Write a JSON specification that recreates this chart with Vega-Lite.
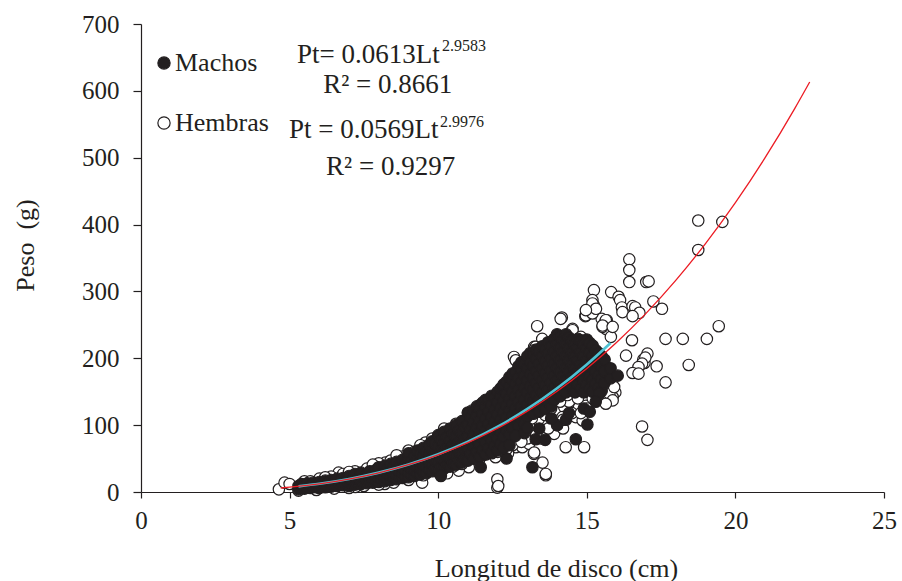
{
  "$schema": "https://vega.github.io/schema/vega-lite/v6.json",
  "width": 743,
  "height": 468,
  "autosize": {"type": "none"},
  "padding": {"left": 141, "top": 24, "right": 18, "bottom": 89},
  "background": "white",
  "config": {
    "view": {"stroke": null},
    "font": "Liberation Serif",
    "axis": {
      "labelFont": "Liberation Serif",
      "titleFont": "Liberation Serif",
      "labelFontSize": 25,
      "titleFontSize": 26,
      "titleFontWeight": "normal",
      "labelColor": "#231f20",
      "titleColor": "#231f20",
      "domainColor": "#231f20",
      "tickColor": "#231f20",
      "domainWidth": 1.2,
      "tickWidth": 1.2,
      "labelFlush": false,
      "grid": false
    },
    "legend": {
      "labelFont": "Liberation Serif",
      "labelFontSize": 26,
      "labelColor": "#231f20"
    }
  },
  "datasets": {
    "machos": [
      {"lt":5.3,"pt":4},{"lt":5.3,"pt":9},{"lt":5.4,"pt":6},{"lt":5.4,"pt":12},{"lt":5.5,"pt":5},{"lt":5.5,"pt":10},
      {"lt":5.6,"pt":7},{"lt":5.6,"pt":13},{"lt":5.7,"pt":6},{"lt":5.7,"pt":11},{"lt":5.8,"pt":8},{"lt":5.8,"pt":14},
      {"lt":5.9,"pt":7},{"lt":5.9,"pt":12},{"lt":6.0,"pt":6},{"lt":6.0,"pt":10},{"lt":6.0,"pt":15},{"lt":6.1,"pt":8},
      {"lt":6.1,"pt":13},{"lt":6.2,"pt":7},{"lt":6.2,"pt":12},{"lt":6.2,"pt":17},{"lt":6.3,"pt":9},{"lt":6.3,"pt":15},
      {"lt":6.4,"pt":8},{"lt":6.4,"pt":13},{"lt":6.4,"pt":18},{"lt":6.5,"pt":10},{"lt":6.5,"pt":16},{"lt":6.6,"pt":9},
      {"lt":6.6,"pt":14},{"lt":6.6,"pt":20},{"lt":6.7,"pt":11},{"lt":6.7,"pt":17},{"lt":6.8,"pt":10},{"lt":6.8,"pt":15},
      {"lt":6.8,"pt":21},{"lt":6.9,"pt":12},{"lt":6.9,"pt":18},{"lt":7.0,"pt":9},{"lt":7.0,"pt":14},{"lt":7.0,"pt":20},
      {"lt":7.0,"pt":24},{"lt":7.1,"pt":12},{"lt":7.1,"pt":18},{"lt":7.2,"pt":11},{"lt":7.2,"pt":16},{"lt":7.2,"pt":22},
      {"lt":7.2,"pt":27},{"lt":7.3,"pt":13},{"lt":7.3,"pt":19},{"lt":7.4,"pt":12},{"lt":7.4,"pt":17},{"lt":7.4,"pt":24},
      {"lt":7.4,"pt":29},{"lt":7.5,"pt":14},{"lt":7.5,"pt":21},{"lt":7.6,"pt":13},{"lt":7.6,"pt":19},{"lt":7.6,"pt":26},
      {"lt":7.7,"pt":15},{"lt":7.7,"pt":22},{"lt":7.7,"pt":31},{"lt":7.8,"pt":14},{"lt":7.8,"pt":20},{"lt":7.8,"pt":27},
      {"lt":7.9,"pt":17},{"lt":7.9,"pt":24},{"lt":7.9,"pt":33},{"lt":8.0,"pt":15},{"lt":8.0,"pt":22},{"lt":8.0,"pt":29},
      {"lt":8.0,"pt":37},{"lt":8.1,"pt":18},{"lt":8.1,"pt":26},{"lt":8.2,"pt":16},{"lt":8.2,"pt":23},{"lt":8.2,"pt":31},
      {"lt":8.2,"pt":39},{"lt":8.3,"pt":19},{"lt":8.3,"pt":27},{"lt":8.3,"pt":35},{"lt":8.4,"pt":18},{"lt":8.4,"pt":25},
      {"lt":8.4,"pt":33},{"lt":8.4,"pt":42},{"lt":8.5,"pt":21},{"lt":8.5,"pt":29},{"lt":8.5,"pt":38},{"lt":8.6,"pt":19},
      {"lt":8.6,"pt":27},{"lt":8.6,"pt":35},{"lt":8.6,"pt":45},{"lt":8.7,"pt":23},{"lt":8.7,"pt":31},{"lt":8.7,"pt":40},
      {"lt":8.8,"pt":21},{"lt":8.8,"pt":29},{"lt":8.8,"pt":37},{"lt":8.8,"pt":48},{"lt":8.9,"pt":24},{"lt":8.9,"pt":33},
      {"lt":8.9,"pt":43},{"lt":9.0,"pt":22},{"lt":9.0,"pt":30},{"lt":9.0,"pt":39},{"lt":9.0,"pt":51},{"lt":9.0,"pt":58},
      {"lt":9.1,"pt":26},{"lt":9.1,"pt":35},{"lt":9.1,"pt":46},{"lt":9.2,"pt":24},{"lt":9.2,"pt":33},{"lt":9.2,"pt":42},
      {"lt":9.2,"pt":54},{"lt":9.3,"pt":28},{"lt":9.3,"pt":38},{"lt":9.3,"pt":49},{"lt":9.3,"pt":62},{"lt":9.4,"pt":26},
      {"lt":9.4,"pt":36},{"lt":9.4,"pt":45},{"lt":9.4,"pt":57},{"lt":9.5,"pt":30},{"lt":9.5,"pt":41},{"lt":9.5,"pt":53},
      {"lt":9.5,"pt":66},{"lt":9.6,"pt":28},{"lt":9.6,"pt":39},{"lt":9.6,"pt":49},{"lt":9.6,"pt":60},{"lt":9.7,"pt":33},
      {"lt":9.7,"pt":44},{"lt":9.7,"pt":56},{"lt":9.7,"pt":71},{"lt":9.8,"pt":31},{"lt":9.8,"pt":42},{"lt":9.8,"pt":52},
      {"lt":9.8,"pt":64},{"lt":9.8,"pt":76},{"lt":9.9,"pt":35},{"lt":9.9,"pt":47},{"lt":9.9,"pt":59},{"lt":9.9,"pt":73},
      {"lt":10.0,"pt":33},{"lt":10.0,"pt":45},{"lt":10.0,"pt":56},{"lt":10.0,"pt":68},{"lt":10.0,"pt":85},
      {"lt":10.1,"pt":37},{"lt":10.1,"pt":50},{"lt":10.1,"pt":62},{"lt":10.1,"pt":78},
      {"lt":10.2,"pt":35},{"lt":10.2,"pt":48},{"lt":10.2,"pt":60},{"lt":10.2,"pt":73},{"lt":10.2,"pt":90},
      {"lt":10.3,"pt":40},{"lt":10.3,"pt":53},{"lt":10.3,"pt":66},{"lt":10.3,"pt":82},
      {"lt":10.4,"pt":38},{"lt":10.4,"pt":51},{"lt":10.4,"pt":64},{"lt":10.4,"pt":77},{"lt":10.4,"pt":95},
      {"lt":10.5,"pt":43},{"lt":10.5,"pt":57},{"lt":10.5,"pt":70},{"lt":10.5,"pt":87},
      {"lt":10.6,"pt":41},{"lt":10.6,"pt":55},{"lt":10.6,"pt":68},{"lt":10.6,"pt":83},{"lt":10.6,"pt":100},
      {"lt":10.7,"pt":46},{"lt":10.7,"pt":60},{"lt":10.7,"pt":74},{"lt":10.7,"pt":92},
      {"lt":10.8,"pt":44},{"lt":10.8,"pt":58},{"lt":10.8,"pt":72},{"lt":10.8,"pt":88},{"lt":10.8,"pt":106},
      {"lt":10.9,"pt":49},{"lt":10.9,"pt":64},{"lt":10.9,"pt":79},{"lt":10.9,"pt":97},
      {"lt":11.0,"pt":47},{"lt":11.0,"pt":65},{"lt":11.0,"pt":83},{"lt":11.0,"pt":101},{"lt":11.0,"pt":119},
      {"lt":11.1,"pt":57},{"lt":11.1,"pt":75},{"lt":11.1,"pt":93},{"lt":11.1,"pt":111},
      {"lt":11.2,"pt":50},{"lt":11.2,"pt":68},{"lt":11.2,"pt":86},{"lt":11.2,"pt":104},{"lt":11.2,"pt":122},
      {"lt":11.3,"pt":60},{"lt":11.3,"pt":78},{"lt":11.3,"pt":96},{"lt":11.3,"pt":114},{"lt":11.3,"pt":128},
      {"lt":11.4,"pt":53},{"lt":11.4,"pt":71},{"lt":11.4,"pt":89},{"lt":11.4,"pt":107},{"lt":11.4,"pt":125},
      {"lt":11.5,"pt":63},{"lt":11.5,"pt":81},{"lt":11.5,"pt":99},{"lt":11.5,"pt":117},{"lt":11.5,"pt":134},
      {"lt":11.6,"pt":56},{"lt":11.6,"pt":74},{"lt":11.6,"pt":92},{"lt":11.6,"pt":110},{"lt":11.6,"pt":128},{"lt":11.6,"pt":138},
      {"lt":11.7,"pt":66},{"lt":11.7,"pt":84},{"lt":11.7,"pt":102},{"lt":11.7,"pt":120},{"lt":11.7,"pt":138},
      {"lt":11.8,"pt":59},{"lt":11.8,"pt":77},{"lt":11.8,"pt":95},{"lt":11.8,"pt":113},{"lt":11.8,"pt":131},{"lt":11.8,"pt":144},
      {"lt":11.9,"pt":69},{"lt":11.9,"pt":87},{"lt":11.9,"pt":105},{"lt":11.9,"pt":123},{"lt":11.9,"pt":141},
      {"lt":12.0,"pt":62},{"lt":12.0,"pt":80},{"lt":12.0,"pt":98},{"lt":12.0,"pt":116},{"lt":12.0,"pt":134},{"lt":12.0,"pt":150},
      {"lt":12.1,"pt":72},{"lt":12.1,"pt":90},{"lt":12.1,"pt":108},{"lt":12.1,"pt":126},{"lt":12.1,"pt":144},{"lt":12.1,"pt":155},
      {"lt":12.2,"pt":83},{"lt":12.2,"pt":101},{"lt":12.2,"pt":119},{"lt":12.2,"pt":137},{"lt":12.2,"pt":155},{"lt":12.2,"pt":161},
      {"lt":12.3,"pt":93},{"lt":12.3,"pt":111},{"lt":12.3,"pt":129},{"lt":12.3,"pt":147},{"lt":12.3,"pt":165},
      {"lt":12.4,"pt":86},{"lt":12.4,"pt":104},{"lt":12.4,"pt":122},{"lt":12.4,"pt":140},{"lt":12.4,"pt":158},{"lt":12.4,"pt":172},
      {"lt":12.5,"pt":96},{"lt":12.5,"pt":114},{"lt":12.5,"pt":132},{"lt":12.5,"pt":150},{"lt":12.5,"pt":168},{"lt":12.5,"pt":177},
      {"lt":12.6,"pt":107},{"lt":12.6,"pt":125},{"lt":12.6,"pt":143},{"lt":12.6,"pt":161},{"lt":12.6,"pt":179},
      {"lt":12.7,"pt":99},{"lt":12.7,"pt":117},{"lt":12.7,"pt":135},{"lt":12.7,"pt":153},{"lt":12.7,"pt":171},{"lt":12.7,"pt":188},
      {"lt":12.8,"pt":110},{"lt":12.8,"pt":128},{"lt":12.8,"pt":146},{"lt":12.8,"pt":164},{"lt":12.8,"pt":182},{"lt":12.8,"pt":194},
      {"lt":12.9,"pt":102},{"lt":12.9,"pt":120},{"lt":12.9,"pt":138},{"lt":12.9,"pt":156},{"lt":12.9,"pt":174},{"lt":12.9,"pt":192},
      {"lt":13.0,"pt":113},{"lt":13.0,"pt":131},{"lt":13.0,"pt":149},{"lt":13.0,"pt":167},{"lt":13.0,"pt":185},{"lt":13.0,"pt":203},
      {"lt":13.1,"pt":122},{"lt":13.1,"pt":140},{"lt":13.1,"pt":158},{"lt":13.1,"pt":176},{"lt":13.1,"pt":194},{"lt":13.1,"pt":208},
      {"lt":13.2,"pt":117},{"lt":13.2,"pt":135},{"lt":13.2,"pt":153},{"lt":13.2,"pt":171},{"lt":13.2,"pt":189},{"lt":13.2,"pt":207},
      {"lt":13.3,"pt":127},{"lt":13.3,"pt":145},{"lt":13.3,"pt":163},{"lt":13.3,"pt":181},{"lt":13.3,"pt":199},{"lt":13.3,"pt":213},
      {"lt":13.4,"pt":120},{"lt":13.4,"pt":138},{"lt":13.4,"pt":156},{"lt":13.4,"pt":174},{"lt":13.4,"pt":192},{"lt":13.4,"pt":210},
      {"lt":13.5,"pt":131},{"lt":13.5,"pt":149},{"lt":13.5,"pt":167},{"lt":13.5,"pt":185},{"lt":13.5,"pt":203},{"lt":13.5,"pt":218},
      {"lt":13.6,"pt":124},{"lt":13.6,"pt":142},{"lt":13.6,"pt":160},{"lt":13.6,"pt":178},{"lt":13.6,"pt":196},{"lt":13.6,"pt":214},
      {"lt":13.7,"pt":135},{"lt":13.7,"pt":153},{"lt":13.7,"pt":171},{"lt":13.7,"pt":189},{"lt":13.7,"pt":207},{"lt":13.7,"pt":224},
      {"lt":13.8,"pt":128},{"lt":13.8,"pt":146},{"lt":13.8,"pt":164},{"lt":13.8,"pt":182},{"lt":13.8,"pt":200},{"lt":13.8,"pt":218},
      {"lt":13.9,"pt":138},{"lt":13.9,"pt":156},{"lt":13.9,"pt":174},{"lt":13.9,"pt":192},{"lt":13.9,"pt":210},{"lt":13.9,"pt":229},
      {"lt":14.0,"pt":149},{"lt":14.0,"pt":167},{"lt":14.0,"pt":185},{"lt":14.0,"pt":203},{"lt":14.0,"pt":221},{"lt":14.0,"pt":236},
      {"lt":14.1,"pt":143},{"lt":14.1,"pt":161},{"lt":14.1,"pt":179},{"lt":14.1,"pt":197},{"lt":14.1,"pt":215},{"lt":14.1,"pt":232},
      {"lt":14.2,"pt":155},{"lt":14.2,"pt":173},{"lt":14.2,"pt":191},{"lt":14.2,"pt":209},{"lt":14.2,"pt":227},
      {"lt":14.3,"pt":149},{"lt":14.3,"pt":167},{"lt":14.3,"pt":185},{"lt":14.3,"pt":203},{"lt":14.3,"pt":221},{"lt":14.3,"pt":236},
      {"lt":14.4,"pt":161},{"lt":14.4,"pt":179},{"lt":14.4,"pt":197},{"lt":14.4,"pt":215},{"lt":14.4,"pt":231},
      {"lt":14.5,"pt":155},{"lt":14.5,"pt":173},{"lt":14.5,"pt":191},{"lt":14.5,"pt":209},{"lt":14.5,"pt":227},
      {"lt":14.6,"pt":149},{"lt":14.6,"pt":167},{"lt":14.6,"pt":185},{"lt":14.6,"pt":203},{"lt":14.6,"pt":221},
      {"lt":14.7,"pt":161},{"lt":14.7,"pt":179},{"lt":14.7,"pt":197},{"lt":14.7,"pt":215},{"lt":14.7,"pt":229},
      {"lt":14.8,"pt":155},{"lt":14.8,"pt":173},{"lt":14.8,"pt":191},{"lt":14.8,"pt":209},{"lt":14.8,"pt":227},
      {"lt":14.9,"pt":149},{"lt":14.9,"pt":167},{"lt":14.9,"pt":185},{"lt":14.9,"pt":203},{"lt":14.9,"pt":221},
      {"lt":15.0,"pt":161},{"lt":15.0,"pt":179},{"lt":15.0,"pt":197},{"lt":15.0,"pt":215},{"lt":15.0,"pt":228},
      {"lt":15.1,"pt":155},{"lt":15.1,"pt":173},{"lt":15.1,"pt":191},{"lt":15.1,"pt":209},{"lt":15.1,"pt":223},
      {"lt":15.2,"pt":150},{"lt":15.2,"pt":168},{"lt":15.2,"pt":186},{"lt":15.2,"pt":204},{"lt":15.2,"pt":219},
      {"lt":15.3,"pt":162},{"lt":15.3,"pt":180},{"lt":15.3,"pt":198},{"lt":15.3,"pt":212},
      {"lt":15.4,"pt":156},{"lt":15.4,"pt":174},{"lt":15.4,"pt":192},{"lt":15.4,"pt":208},
      {"lt":15.5,"pt":151},{"lt":15.5,"pt":169},{"lt":15.5,"pt":187},{"lt":15.5,"pt":203},
      {"lt":15.6,"pt":163},{"lt":15.6,"pt":181},{"lt":15.6,"pt":198},
      {"lt":15.8,"pt":170},{"lt":15.8,"pt":185},
      {"lt":11.43,"pt":37},{"lt":13.17,"pt":37},{"lt":10.09,"pt":24},{"lt":14.63,"pt":79},{"lt":15.02,"pt":101},
      {"lt":13.28,"pt":79},{"lt":16.04,"pt":174},{"lt":15.42,"pt":147},{"lt":12.3,"pt":50},{"lt":14.0,"pt":100},
      {"lt":14.3,"pt":108},{"lt":14.9,"pt":125},{"lt":15.3,"pt":135},{"lt":12.2,"pt":66},{"lt":12.4,"pt":70},
      {"lt":12.6,"pt":84},{"lt":12.9,"pt":88},{"lt":13.4,"pt":95},{"lt":13.6,"pt":78},{"lt":13.8,"pt":110},
      {"lt":14.4,"pt":118},{"lt":15.1,"pt":120},{"lt":13.0,"pt":96}
    ],
    "hembras": [
      {"lt":18.75,"pt":406},{"lt":19.56,"pt":404},{"lt":18.75,"pt":362},{"lt":17.0,"pt":314},{"lt":17.08,"pt":315},
      {"lt":17.24,"pt":285},{"lt":17.53,"pt":274},{"lt":19.44,"pt":248},{"lt":17.65,"pt":229},{"lt":18.23,"pt":229},
      {"lt":19.04,"pt":229},{"lt":17.04,"pt":207},{"lt":16.9,"pt":198},{"lt":16.94,"pt":193},{"lt":17.35,"pt":188},
      {"lt":18.43,"pt":190},{"lt":17.65,"pt":164},{"lt":16.86,"pt":98},{"lt":17.04,"pt":78},
      {"lt":16.43,"pt":348},{"lt":16.43,"pt":332},{"lt":16.43,"pt":314},{"lt":15.82,"pt":299},{"lt":16.07,"pt":292},
      {"lt":16.12,"pt":287},{"lt":16.18,"pt":276},{"lt":16.2,"pt":269},{"lt":16.54,"pt":278},{"lt":16.63,"pt":276},
      {"lt":16.77,"pt":268},{"lt":16.54,"pt":263},{"lt":15.67,"pt":257},{"lt":15.58,"pt":249},{"lt":15.64,"pt":244},
      {"lt":16.52,"pt":227},{"lt":15.24,"pt":302},{"lt":15.19,"pt":287},{"lt":15.24,"pt":279},{"lt":14.95,"pt":263},
      {"lt":14.16,"pt":261},{"lt":14.52,"pt":244},{"lt":15.5,"pt":259},{"lt":15.62,"pt":254},{"lt":15.53,"pt":247},
      {"lt":15.81,"pt":232},{"lt":16.32,"pt":204},{"lt":16.97,"pt":201},{"lt":16.86,"pt":192},{"lt":16.74,"pt":187},
      {"lt":16.54,"pt":178},{"lt":16.74,"pt":177},{"lt":15.96,"pt":149},{"lt":15.87,"pt":142},{"lt":15.64,"pt":157},
      {"lt":15.42,"pt":144},{"lt":13.33,"pt":248},{"lt":12.55,"pt":202},{"lt":12.61,"pt":197},{"lt":13.5,"pt":229},
      {"lt":13.23,"pt":217},{"lt":13.84,"pt":217},{"lt":14.52,"pt":242},{"lt":14.29,"pt":67},{"lt":14.91,"pt":67},
      {"lt":11.99,"pt":19},{"lt":11.99,"pt":6.5},{"lt":13.62,"pt":25},{"lt":13.51,"pt":44},{"lt":13.22,"pt":57},
      {"lt":11.93,"pt":52},{"lt":9.46,"pt":14},{"lt":8.2,"pt":12},{"lt":4.64,"pt":4},{"lt":4.83,"pt":14},
      {"lt":7.21,"pt":7.5},{"lt":8.22,"pt":44},{"lt":9.57,"pt":74},{"lt":6.65,"pt":29},{"lt":7.66,"pt":34},
      {"lt":9.0,"pt":62},{"lt":10.19,"pt":37},{"lt":14.12,"pt":259},{"lt":14.97,"pt":264},{"lt":15.19,"pt":267},
      {"lt":12.78,"pt":174},{"lt":12.44,"pt":154},{"lt":12.38,"pt":147},{"lt":11.48,"pt":127},{"lt":11.14,"pt":122},
      {"lt":11.26,"pt":117},{"lt":13.28,"pt":217},{"lt":13.22,"pt":212},{"lt":13.9,"pt":217},{"lt":13.73,"pt":204},
      {"lt":13.17,"pt":184},{"lt":11.82,"pt":77},{"lt":12.27,"pt":72},{"lt":12.61,"pt":67},{"lt":12.83,"pt":67},
      {"lt":13.06,"pt":72},{"lt":12.02,"pt":9},{"lt":13.23,"pt":59},{"lt":13.62,"pt":27},{"lt":13.9,"pt":87},
      {"lt":14.07,"pt":122},{"lt":14.24,"pt":127},{"lt":14.52,"pt":132},{"lt":14.74,"pt":127},{"lt":14.97,"pt":129},
      {"lt":14.18,"pt":112},{"lt":14.63,"pt":112},{"lt":14.86,"pt":107},{"lt":15.31,"pt":137},{"lt":15.53,"pt":142},
      {"lt":15.76,"pt":147},{"lt":15.87,"pt":137},{"lt":15.64,"pt":132},{"lt":15.53,"pt":162},{"lt":15.76,"pt":167},
      {"lt":15.92,"pt":157},{"lt":11.37,"pt":47},{"lt":11.03,"pt":37},{"lt":10.69,"pt":32},{"lt":12.61,"pt":114},
      {"lt":12.72,"pt":107},{"lt":13.11,"pt":92},{"lt":13.28,"pt":99},{"lt":12.16,"pt":94},{"lt":11.65,"pt":72},
      {"lt":11.14,"pt":64},{"lt":15.19,"pt":282},{"lt":15.31,"pt":274},{"lt":15.64,"pt":257},{"lt":15.53,"pt":249},
      {"lt":15.87,"pt":247},{"lt":14.97,"pt":272},
      {"lt":12.9,"pt":100},{"lt":13.4,"pt":106},{"lt":13.6,"pt":115},{"lt":13.8,"pt":125},{"lt":14.2,"pt":95},
      {"lt":14.4,"pt":135},{"lt":14.7,"pt":140},{"lt":15.0,"pt":150},{"lt":15.2,"pt":140},{"lt":13.0,"pt":108},
      {"lt":12.5,"pt":95},{"lt":12.45,"pt":82},{"lt":12.75,"pt":90},{"lt":13.45,"pt":80},{"lt":13.7,"pt":100},
      {"lt":14.1,"pt":135},{"lt":14.35,"pt":145},{"lt":14.6,"pt":150},{"lt":12.35,"pt":58},{"lt":13.15,"pt":110},
      {"lt":5.0,"pt":12},{"lt":5.5,"pt":16},{"lt":6.0,"pt":20},{"lt":6.4,"pt":23},{"lt":6.8,"pt":27},{"lt":7.2,"pt":31},
      {"lt":7.6,"pt":35},{"lt":8.0,"pt":43},{"lt":8.4,"pt":47},{"lt":8.8,"pt":53},{"lt":9.2,"pt":60},{"lt":9.6,"pt":68},
      {"lt":10.0,"pt":78},{"lt":10.4,"pt":88},{"lt":10.8,"pt":98},{"lt":11.2,"pt":112},{"lt":11.6,"pt":125},{"lt":12.0,"pt":138},
      {"lt":12.4,"pt":150},{"lt":12.8,"pt":165},{"lt":13.2,"pt":185},{"lt":13.6,"pt":200},{"lt":14.0,"pt":215},{"lt":14.4,"pt":225},
      {"lt":14.8,"pt":232},{"lt":10.2,"pt":95},{"lt":10.6,"pt":102},{"lt":11.0,"pt":118},{"lt":11.4,"pt":130},{"lt":11.8,"pt":140},
      {"lt":12.2,"pt":158},{"lt":12.6,"pt":170},{"lt":13.0,"pt":190},{"lt":9.4,"pt":70},{"lt":9.8,"pt":80},{"lt":8.6,"pt":55},
      {"lt":7.8,"pt":41},{"lt":7.0,"pt":30},{"lt":6.2,"pt":22},{"lt":5.7,"pt":16},
      {"lt":5.3,"pt":2},{"lt":5.9,"pt":3},{"lt":6.5,"pt":5},{"lt":7.0,"pt":6},{"lt":7.5,"pt":9},{"lt":8.0,"pt":11},
      {"lt":8.5,"pt":14},{"lt":9.0,"pt":18},{"lt":9.5,"pt":25},{"lt":10.0,"pt":30},{"lt":10.5,"pt":38},{"lt":11.0,"pt":48},
      {"lt":11.5,"pt":55},{"lt":12.0,"pt":60},{"lt":12.5,"pt":70},{"lt":13.0,"pt":80},{"lt":13.5,"pt":90},{"lt":14.0,"pt":100},
      {"lt":14.5,"pt":118},{"lt":15.0,"pt":125},{"lt":10.3,"pt":28},{"lt":10.8,"pt":42},{"lt":11.3,"pt":52},{"lt":11.8,"pt":58},
      {"lt":12.3,"pt":64},{"lt":12.8,"pt":75},{"lt":13.3,"pt":85},{"lt":13.7,"pt":95},{"lt":14.2,"pt":108},{"lt":14.8,"pt":118},
      {"lt":6.0,"pt":12},{"lt":7.0,"pt":18},{"lt":8.0,"pt":27},{"lt":9.0,"pt":40},{"lt":10.0,"pt":55},{"lt":11.0,"pt":74},
      {"lt":12.0,"pt":95},{"lt":13.0,"pt":120},{"lt":14.0,"pt":150},{"lt":15.0,"pt":185}
    ],
    "curvas": [
      {"lt":4.7,"pt":5.97,"ajuste":"Machos"},{"lt":5,"pt":7.17,"ajuste":"Machos"},{"lt":6,"pt":12.29,"ajuste":"Machos"},
      {"lt":7,"pt":19.39,"ajuste":"Machos"},{"lt":8,"pt":28.78,"ajuste":"Machos"},{"lt":9,"pt":40.78,"ajuste":"Machos"},
      {"lt":10,"pt":55.69,"ajuste":"Machos"},{"lt":11,"pt":73.83,"ajuste":"Machos"},{"lt":12,"pt":95.5,"ajuste":"Machos"},
      {"lt":13,"pt":121.0,"ajuste":"Machos"},{"lt":14,"pt":150.7,"ajuste":"Machos"},{"lt":15,"pt":184.8,"ajuste":"Machos"},
      {"lt":16,"pt":223.7,"ajuste":"Machos"},{"lt":17,"pt":267.6,"ajuste":"Machos"},{"lt":18,"pt":316.9,"ajuste":"Machos"},
      {"lt":19,"pt":371.9,"ajuste":"Machos"},{"lt":20,"pt":432.8,"ajuste":"Machos"},{"lt":21,"pt":500.0,"ajuste":"Machos"},
      {"lt":22,"pt":573.8,"ajuste":"Machos"},{"lt":22.5,"pt":613.2,"ajuste":"Machos"},
      {"lt":5.3,"pt":8.44,"ajuste":"Hembras"},{"lt":6,"pt":12.24,"ajuste":"Hembras"},{"lt":7,"pt":19.43,"ajuste":"Hembras"},
      {"lt":8,"pt":28.99,"ajuste":"Hembras"},{"lt":9,"pt":41.26,"ajuste":"Hembras"},{"lt":10,"pt":56.59,"ajuste":"Hembras"},
      {"lt":11,"pt":75.3,"ajuste":"Hembras"},{"lt":12,"pt":97.74,"ajuste":"Hembras"},{"lt":13,"pt":124.2,"ajuste":"Hembras"},
      {"lt":14,"pt":155.1,"ajuste":"Hembras"},{"lt":15,"pt":190.8,"ajuste":"Hembras"},{"lt":15.8,"pt":222.9,"ajuste":"Hembras"}
    ]
  },
  "encoding": {
    "x": {
      "field": "lt", "type": "quantitative",
      "scale": {"domain": [0, 25], "nice": false, "zero": false},
      "axis": {
        "title": "Longitud de disco (cm)",
        "values": [0, 5, 10, 15, 20, 25],
        "tickSize": 6, "labelPadding": 10,
        "titleX": 415, "titleY": 76, "titleBaseline": "middle", "titleAlign": "center"
      }
    },
    "y": {
      "field": "pt", "type": "quantitative",
      "scale": {"domain": [0, 700], "nice": false},
      "axis": {
        "title": "Peso\u00a0 (g)",
        "values": [0, 100, 200, 300, 400, 500, 600, 700],
        "tickSize": 8, "labelPadding": 14,
        "titleAngle": -90, "titleX": -116, "titleY": 221, "titleAlign": "center", "titleBaseline": "middle"
      }
    }
  },
  "layer": [
    {
      "data": {"name": "hembras"},
      "mark": {"type": "point", "shape": "circle", "filled": true, "size": 130, "stroke": "#231f20", "strokeWidth": 1.2, "opacity": 1},
      "encoding": {
        "fill": {
          "datum": "Hembras", "type": "nominal",
          "scale": {"domain": ["Machos", "Hembras"], "range": ["#231f20", "#ffffff"]},
          "legend": {
            "title": null, "orient": "none", "legendX": 10, "legendY": 26,
            "symbolType": "circle", "symbolSize": 150, "symbolStrokeColor": "#231f20", "symbolStrokeWidth": 1.2,
            "rowPadding": 34, "labelOffset": -2, "padding": 0
          }
        }
      }
    },
    {
      "data": {"name": "machos"},
      "mark": {"type": "point", "shape": "circle", "filled": true, "size": 130, "stroke": "#231f20", "strokeWidth": 1.2, "opacity": 1},
      "encoding": {
        "fill": {"datum": "Machos", "type": "nominal"}
      }
    },
    {
      "data": {"name": "curvas"},
      "transform": [{"filter": "datum.ajuste === 'Hembras'"}],
      "mark": {"type": "line", "color": "#4fc3d4", "strokeWidth": 2.6, "interpolate": "monotone"},
      "encoding": {}
    },
    {
      "data": {"name": "curvas"},
      "transform": [{"filter": "datum.ajuste === 'Machos'"}],
      "mark": {"type": "line", "color": "#ec1c24", "strokeWidth": 1.3, "interpolate": "monotone"},
      "encoding": {}
    },
    {
      "data": {"values": [
        {"lt": 5.25, "pt": 654, "texto": "Pt= 0.0613Lt"},
        {"lt": 4.98, "pt": 541, "texto": "Pt = 0.0569Lt"}
      ]},
      "mark": {"type": "text", "align": "left", "baseline": "middle", "font": "Liberation Serif", "fontSize": 27, "color": "#231f20"},
      "encoding": {"text": {"field": "texto"}}
    },
    {
      "data": {"values": [
        {"lt": 10.13, "pt": 667, "texto": "2.9583"},
        {"lt": 10.06, "pt": 554, "texto": "2.9976"}
      ]},
      "mark": {"type": "text", "align": "left", "baseline": "middle", "font": "Liberation Serif", "fontSize": 16, "color": "#231f20"},
      "encoding": {"text": {"field": "texto"}}
    },
    {
      "data": {"values": [
        {"lt": 8.3, "pt": 609, "texto": "R² = 0.8661"},
        {"lt": 8.4, "pt": 486, "texto": "R² = 0.9297"}
      ]},
      "mark": {"type": "text", "align": "center", "baseline": "middle", "font": "Liberation Serif", "fontSize": 27, "color": "#231f20"},
      "encoding": {"text": {"field": "texto"}}
    }
  ]
}
